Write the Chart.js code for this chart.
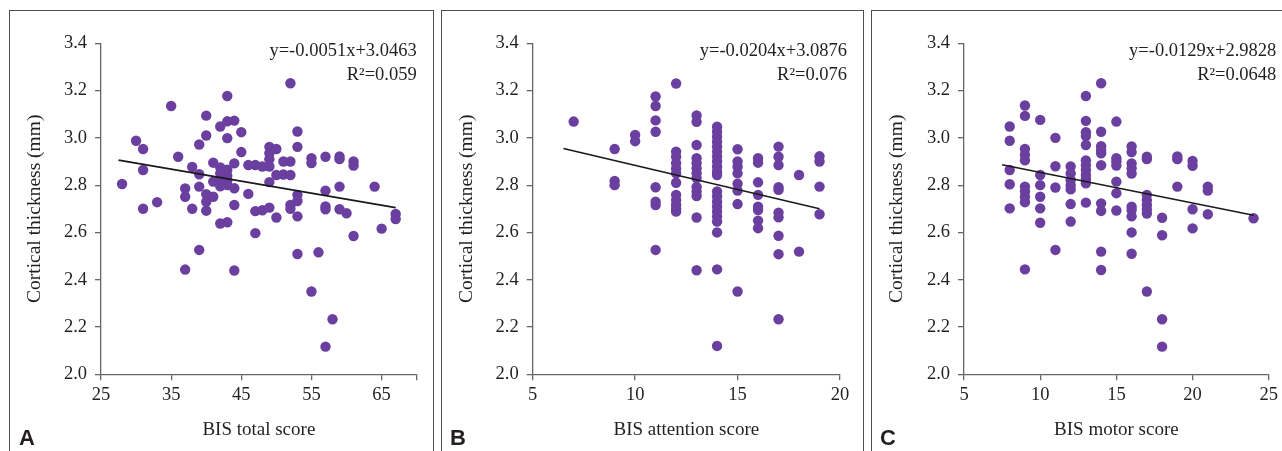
<!DOCTYPE html>
<html><head><meta charset="utf-8">
<script src="https://cdn.jsdelivr.net/npm/chart.js@4/dist/chart.umd.min.js"></script>
<style>
html,body{margin:0;padding:0;background:#fff;}
body{width:1282px;height:451px;position:relative;overflow:hidden;}
.panel{position:absolute;top:10px;height:445px;border-top:1px solid #4d4d4d;border-left:1px solid #4d4d4d;border-right:1px solid #4d4d4d;box-sizing:border-box;}
.wrap{position:absolute;top:11px;height:440px;}
.wrap canvas{display:block;}
.letter{position:absolute;top:427px;font-family:"Liberation Sans",Arial,sans-serif;font-weight:bold;font-size:22px;color:#231f20;line-height:1;}
</style></head>
<body>
<div class="panel" style="left:9px;width:425px;"></div>
<div class="panel" style="left:441px;width:423px;"></div>
<div class="panel" style="left:871px;width:420px;border-right:none;"></div>
<div class="wrap" style="left:10px;width:423px;"><canvas id="cA" width="423" height="440"></canvas></div>
<div class="wrap" style="left:442px;width:421px;"><canvas id="cB" width="421" height="440"></canvas></div>
<div class="wrap" style="left:872px;width:410px;"><canvas id="cC" width="410" height="440"></canvas></div>
<div class="letter" style="left:19px;">A</div>
<div class="letter" style="left:450px;">B</div>
<div class="letter" style="left:880px;">C</div>
<script>
// ---------- DATA ----------
const yTicks = [2.0, 2.2, 2.4, 2.6, 2.8, 3.0, 3.2, 3.4];

// Panel A: BIS total score
const totalScores = [28,30,31,33,35,36,37,38,39,40,41,42,43,44,45,46,47,48,49,50,51,52,53,55,56,57,58,59,60,61,64,65,67];
const thicknessByTotal = [
  [2.805],[2.988],[2.953,2.864,2.70],[2.728],[3.135],[2.92],
  [2.786,2.751,2.443],[2.877,2.70],[2.972,2.846,2.794,2.526],
  [3.094,3.01,2.762,2.73,2.692],[2.895,2.815,2.751],
  [3.048,2.875,2.85,2.82,2.795,2.638],
  [3.177,3.07,2.999,2.865,2.84,2.82,2.80,2.643],
  [3.073,2.892,2.787,2.716,2.439],[3.024,2.94],[2.885,2.763],
  [2.885,2.69,2.597],[2.879,2.694],[2.962,2.935,2.91,2.879,2.813,2.705],
  [2.953,2.843,2.663],[2.9,2.845],[3.231,2.9,2.843,2.716,2.70],
  [3.027,2.962,2.759,2.733,2.668,2.509],[2.914,2.893,2.35],[2.516],
  [2.92,2.777,2.71,2.698,2.117],[2.233],[2.921,2.91,2.794,2.698],[2.681],
  [2.9,2.883,2.585],[2.794],[2.616],[2.678,2.657]
];
const xTicksA = [25,35,45,55,65,70];
const xLabelsA = [25,35,45,55,65];
const trendA = [[27.5,2.906],[67,2.705]];

// Panel B: BIS attention score
const attentionScores = [7,9,10,11,12,13,14,15,16,17,18,19];
const thicknessByAttention = [
  [3.069],[2.953,2.818,2.80],[3.012,2.986],
  [3.175,3.135,3.074,3.026,2.791,2.73,2.716,2.526],
  [3.23,2.942,2.92,2.893,2.87,2.85,2.81,2.759,2.737,2.716,2.70,2.688],
  [3.095,3.068,2.97,2.914,2.893,2.871,2.85,2.83,2.792,2.773,2.754,2.663,2.44],
  [3.047,3.026,3.005,2.984,2.963,2.942,2.921,2.9,2.878,2.857,2.843,2.773,2.752,2.73,2.709,2.688,2.667,2.646,2.60,2.444,2.12],
  [2.952,2.9,2.878,2.85,2.806,2.777,2.72,2.35],
  [2.914,2.895,2.812,2.759,2.709,2.695,2.65,2.618],
  [2.963,2.92,2.885,2.791,2.78,2.684,2.664,2.586,2.508,2.233],
  [2.843,2.519],[2.922,2.9,2.794,2.677]
];
const xTicksB = [5,10,15,20];
const xLabelsB = [5,10,15,20];
const trendB = [[6.5,2.955],[19,2.700]];

// Panel C: BIS motor score
const motorScores = [8,9,10,11,12,13,14,15,16,17,18,19,20,21,24];
const thicknessByMotor = [
  [3.048,2.988,2.864,2.804,2.702],
  [3.137,3.093,2.953,2.928,2.905,2.794,2.773,2.751,2.728,2.444],
  [3.076,2.843,2.80,2.751,2.702,2.641],
  [3.0,2.88,2.79,2.526],
  [2.879,2.85,2.822,2.80,2.782,2.72,2.646],
  [3.177,3.072,3.024,3.008,2.97,2.905,2.885,2.864,2.843,2.825,2.808,2.726],
  [3.231,3.026,2.965,2.949,2.935,2.884,2.723,2.691,2.519,2.441],
  [3.069,2.914,2.9,2.883,2.815,2.766,2.693],
  [2.964,2.94,2.892,2.871,2.849,2.709,2.695,2.668,2.6,2.51],
  [2.92,2.91,2.759,2.737,2.716,2.697,2.68,2.35],
  [2.662,2.588,2.233,2.117],
  [2.921,2.91,2.794],
  [2.902,2.882,2.698,2.617],
  [2.794,2.777,2.677],
  [2.66]
];
const xTicksC = [5,10,15,20,25];
const xLabelsC = [5,10,15,20,25];
const trendC = [[7.5,2.886],[24,2.673]];

// ---------- CHARTS ----------
const INK = '#231f20';
const AXIS = '#666666';
const DOT = '#6b3f9f';
Chart.defaults.font.family = '"Liberation Serif", "Times New Roman", serif';
Chart.defaults.color = INK;

const eqPlugin = {
  id: 'eq',
  afterDatasetsDraw(chart, args, opts) {
    const {ctx, chartArea} = chart;
    ctx.save();
    ctx.font = '18.5px "Liberation Serif", serif';
    ctx.fillStyle = INK;
    ctx.textAlign = 'right';
    ctx.textBaseline = 'alphabetic';
    ctx.fillText(opts.eq, chartArea.right + opts.dx, chartArea.top + 12.7);
    ctx.fillText(opts.r2, chartArea.right + opts.dx, chartArea.top + 36.7);
    ctx.restore();
  }
};

function makeChart(id, xs, groups, xMin, xMax, xTicks, xLabels, trend, xTitle, eq, r2, yAxisW, padRight, eqDx) {
  const pts = [];
  xs.forEach((x, i) => groups[i].forEach(y => pts.push({x: x, y: y})));
  new Chart(document.getElementById(id), {
    type: 'scatter',
    data: {
      datasets: [
        {type: 'line', data: trend.map(p => ({x: p[0], y: p[1]})), borderColor: '#1a1a1a', borderWidth: 1.6,
         pointRadius: 0, fill: false, order: 0},
        {type: 'scatter', data: pts, backgroundColor: DOT, borderWidth: 0, pointRadius: 5.2, pointHoverRadius: 5.2, order: 1}
      ]
    },
    options: {
      responsive: false, animation: false, events: [],
      layout: {padding: {left: 0, right: padRight, top: 32.3, bottom: 0}},
      plugins: {legend: {display: false}, tooltip: {enabled: false}, eq: {eq: eq, r2: r2, dx: eqDx}},
      scales: {
        x: {
          type: 'linear', min: xMin, max: xMax,
          afterBuildTicks: s => { s.ticks = xTicks.map(v => ({value: v})); },
          afterFit: s => { s.height = 76.7; },
          ticks: {font: {size: 18.5}, color: INK, padding: 4, maxRotation: 0, autoSkip: false,
                  callback: v => xLabels.includes(v) ? String(v) : ''},
          grid: {display: true, drawOnChartArea: false, drawTicks: true, tickLength: 6, color: AXIS, lineWidth: 1.3},
          border: {display: true, color: AXIS, width: 1.3},
          title: {display: true, text: xTitle, font: {size: 19}, color: INK, padding: {top: 0, bottom: 10}}
        },
        y: {
          type: 'linear', min: 2.0, max: 3.4,
          afterBuildTicks: s => { s.ticks = yTicks.map(v => ({value: v})); },
          afterFit: s => { s.width = yAxisW; },
          ticks: {font: {size: 18.5}, color: INK, padding: 8, autoSkip: false, callback: v => Number(v).toFixed(1)},
          grid: {display: true, drawOnChartArea: false, drawTicks: true, tickLength: 6, color: AXIS, lineWidth: 1.3},
          border: {display: true, color: AXIS, width: 1.3},
          title: {display: true, text: 'Cortical thickness (mm)', font: {size: 19.5}, color: INK, padding: {top: 13, bottom: 0}}
        }
      }
    },
    plugins: [eqPlugin]
  });
}

makeChart('cA', totalScores, thicknessByTotal, 25, 70, xTicksA, xLabelsA, trendA, 'BIS total score',
  'y=-0.0051x+3.0463', 'R\u00B2=0.059', 91, 16.3, 0);
makeChart('cB', attentionScores, thicknessByAttention, 5, 20, xTicksB, xLabelsB, trendB, 'BIS attention score',
  'y=-0.0204x+3.0876', 'R\u00B2=0.076', 90.7, 23, 7);
makeChart('cC', motorScores, thicknessByMotor, 5, 25, xTicksC, xLabelsC, trendC, 'BIS motor score',
  'y=-0.0129x+2.9828', 'R\u00B2=0.0648', 92, 11.3, 7.6);
</script>
</body></html>
